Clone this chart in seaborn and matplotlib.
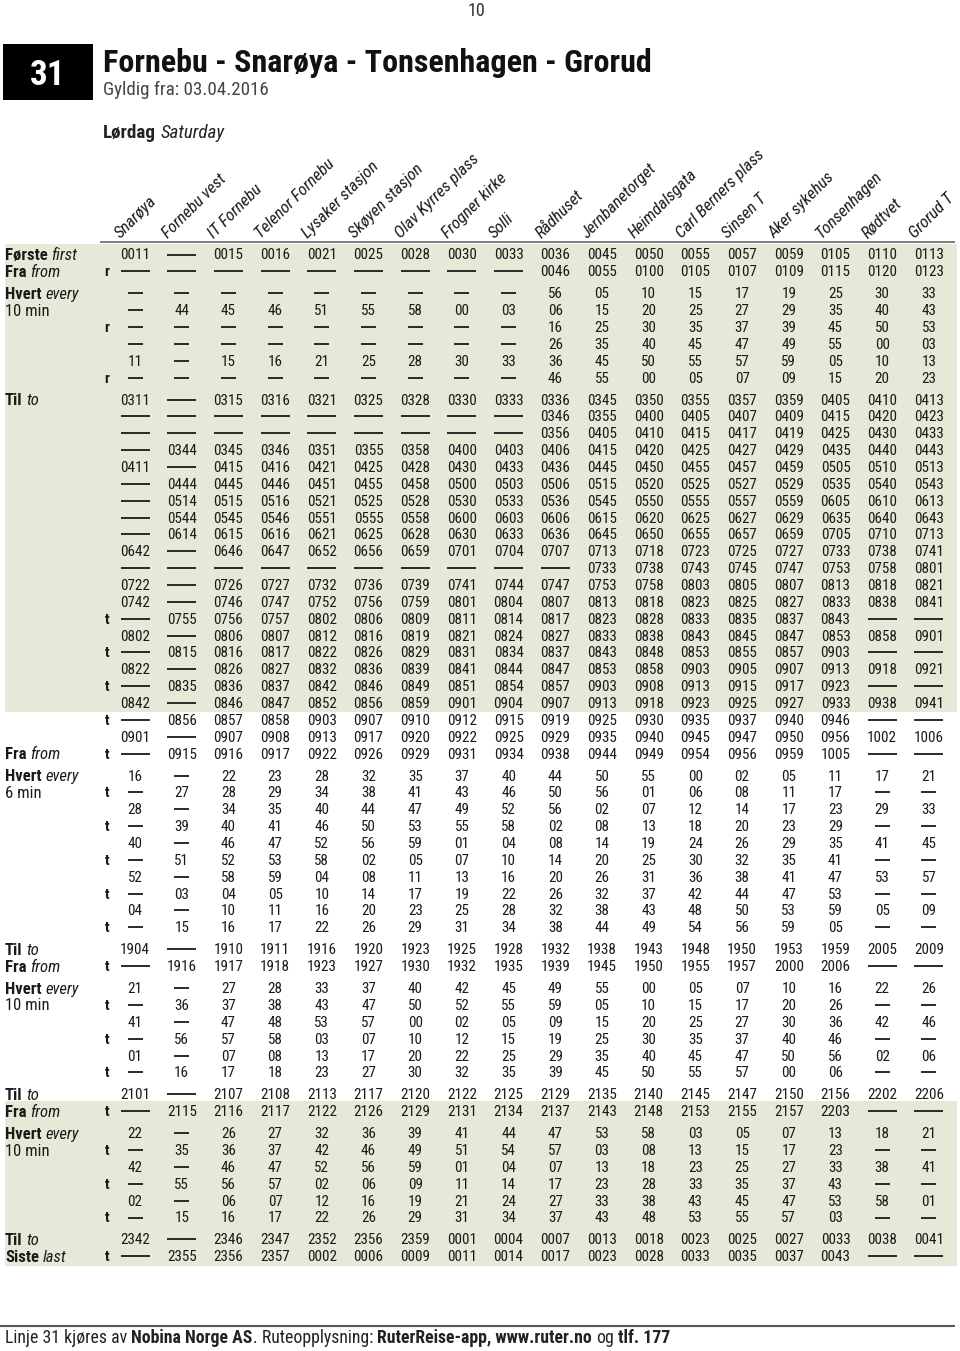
import matplotlib
matplotlib.use("Agg")
import matplotlib.pyplot as plt
from matplotlib import font_manager as fm
from matplotlib.patches import Rectangle
import seaborn as sns

# ---------------- data ----------------
stops = ["Snarøya", "Fornebu vest", "IT Fornebu", "Telenor Fornebu", "Lysaker stasjon",
         "Skøyen stasjon", "Olav Kyrres plass", "Frogner kirke", "Solli", "Rådhuset",
         "Jernbanetorget", "Heimdalsgata", "Carl Berners plass", "Sinsen T", "Aker sykehus",
         "Tonsenhagen", "Rødtvet", "Grorud T"]

# first token of each row: '.' none, 'r'/'t' footnote marker ; '-' = no stop
block_first = [
    ". 0011 - 0015 0016 0021 0025 0028 0030 0033 0036 0045 0050 0055 0057 0059 0105 0110 0113",
    "r - - - - - - - - - 0046 0055 0100 0105 0107 0109 0115 0120 0123",
]
block_every1 = [
    ". - - - - - - - - - 56 05 10 15 17 19 25 30 33",
    ". - 44 45 46 51 55 58 00 03 06 15 20 25 27 29 35 40 43",
    "r - - - - - - - - - 16 25 30 35 37 39 45 50 53",
    ". - - - - - - - - - 26 35 40 45 47 49 55 00 03",
    ". 11 - 15 16 21 25 28 30 33 36 45 50 55 57 59 05 10 13",
    "r - - - - - - - - - 46 55 00 05 07 09 15 20 23",
]
block_to1 = [
    ". 0311 - 0315 0316 0321 0325 0328 0330 0333 0336 0345 0350 0355 0357 0359 0405 0410 0413",
    ". - - - - - - - - - 0346 0355 0400 0405 0407 0409 0415 0420 0423",
    ". - - - - - - - - - 0356 0405 0410 0415 0417 0419 0425 0430 0433",
    ". - 0344 0345 0346 0351 0355 0358 0400 0403 0406 0415 0420 0425 0427 0429 0435 0440 0443",
    ". 0411 - 0415 0416 0421 0425 0428 0430 0433 0436 0445 0450 0455 0457 0459 0505 0510 0513",
    ". - 0444 0445 0446 0451 0455 0458 0500 0503 0506 0515 0520 0525 0527 0529 0535 0540 0543",
    ". - 0514 0515 0516 0521 0525 0528 0530 0533 0536 0545 0550 0555 0557 0559 0605 0610 0613",
    ". - 0544 0545 0546 0551 0555 0558 0600 0603 0606 0615 0620 0625 0627 0629 0635 0640 0643",
    ". - 0614 0615 0616 0621 0625 0628 0630 0633 0636 0645 0650 0655 0657 0659 0705 0710 0713",
    ". 0642 - 0646 0647 0652 0656 0659 0701 0704 0707 0713 0718 0723 0725 0727 0733 0738 0741",
    ". - - - - - - - - - - 0733 0738 0743 0745 0747 0753 0758 0801",
    ". 0722 - 0726 0727 0732 0736 0739 0741 0744 0747 0753 0758 0803 0805 0807 0813 0818 0821",
    ". 0742 - 0746 0747 0752 0756 0759 0801 0804 0807 0813 0818 0823 0825 0827 0833 0838 0841",
    "t - 0755 0756 0757 0802 0806 0809 0811 0814 0817 0823 0828 0833 0835 0837 0843 - -",
    ". 0802 - 0806 0807 0812 0816 0819 0821 0824 0827 0833 0838 0843 0845 0847 0853 0858 0901",
    "t - 0815 0816 0817 0822 0826 0829 0831 0834 0837 0843 0848 0853 0855 0857 0903 - -",
    ". 0822 - 0826 0827 0832 0836 0839 0841 0844 0847 0853 0858 0903 0905 0907 0913 0918 0921",
    "t - 0835 0836 0837 0842 0846 0849 0851 0854 0857 0903 0908 0913 0915 0917 0923 - -",
    ". 0842 - 0846 0847 0852 0856 0859 0901 0904 0907 0913 0918 0923 0925 0927 0933 0938 0941",
    "t - 0856 0857 0858 0903 0907 0910 0912 0915 0919 0925 0930 0935 0937 0940 0946 - -",
    ". 0901 - 0907 0908 0913 0917 0920 0922 0925 0929 0935 0940 0945 0947 0950 0956 1002 1006",
    "t - 0915 0916 0917 0922 0926 0929 0931 0934 0938 0944 0949 0954 0956 0959 1005 - -",
]
block_every2 = [
    ". 16 - 22 23 28 32 35 37 40 44 50 55 00 02 05 11 17 21",
    "t - 27 28 29 34 38 41 43 46 50 56 01 06 08 11 17 - -",
    ". 28 - 34 35 40 44 47 49 52 56 02 07 12 14 17 23 29 33",
    "t - 39 40 41 46 50 53 55 58 02 08 13 18 20 23 29 - -",
    ". 40 - 46 47 52 56 59 01 04 08 14 19 24 26 29 35 41 45",
    "t - 51 52 53 58 02 05 07 10 14 20 25 30 32 35 41 - -",
    ". 52 - 58 59 04 08 11 13 16 20 26 31 36 38 41 47 53 57",
    "t - 03 04 05 10 14 17 19 22 26 32 37 42 44 47 53 - -",
    ". 04 - 10 11 16 20 23 25 28 32 38 43 48 50 53 59 05 09",
    "t - 15 16 17 22 26 29 31 34 38 44 49 54 56 59 05 - -",
]
block_to2 = [
    ". 1904 - 1910 1911 1916 1920 1923 1925 1928 1932 1938 1943 1948 1950 1953 1959 2005 2009",
    "t - 1916 1917 1918 1923 1927 1930 1932 1935 1939 1945 1950 1955 1957 2000 2006 - -",
]
block_every3 = [
    ". 21 - 27 28 33 37 40 42 45 49 55 00 05 07 10 16 22 26",
    "t - 36 37 38 43 47 50 52 55 59 05 10 15 17 20 26 - -",
    ". 41 - 47 48 53 57 00 02 05 09 15 20 25 27 30 36 42 46",
    "t - 56 57 58 03 07 10 12 15 19 25 30 35 37 40 46 - -",
    ". 01 - 07 08 13 17 20 22 25 29 35 40 45 47 50 56 02 06",
    "t - 16 17 18 23 27 30 32 35 39 45 50 55 57 00 06 - -",
]
block_to3 = [
    ". 2101 - 2107 2108 2113 2117 2120 2122 2125 2129 2135 2140 2145 2147 2150 2156 2202 2206",
    "t - 2115 2116 2117 2122 2126 2129 2131 2134 2137 2143 2148 2153 2155 2157 2203 - -",
]
block_every4 = [
    ". 22 - 26 27 32 36 39 41 44 47 53 58 03 05 07 13 18 21",
    "t - 35 36 37 42 46 49 51 54 57 03 08 13 15 17 23 - -",
    ". 42 - 46 47 52 56 59 01 04 07 13 18 23 25 27 33 38 41",
    "t - 55 56 57 02 06 09 11 14 17 23 28 33 35 37 43 - -",
    ". 02 - 06 07 12 16 19 21 24 27 33 38 43 45 47 53 58 01",
    "t - 15 16 17 22 26 29 31 34 37 43 48 53 55 57 03 - -",
]
block_last = [
    ". 2342 - 2346 2347 2352 2356 2359 0001 0004 0007 0013 0018 0023 0025 0027 0033 0038 0041",
    "t - 2355 2356 2357 0002 0006 0009 0011 0014 0017 0023 0028 0033 0035 0037 0043 - -",
]

# (rows, kind, row labels)  kind: 'time' -> long dash, 'min' -> short dash
blocks = [
    (block_first, "time", {0: ("Første", "first", ""), 1: ("Fra", "from", "")}),
    (block_every1, "min", {0: ("Hvert", "every", ""), 1: ("", "", "10 min")}),
    (block_to1, "time", {0: ("Til", "to", ""), 21: ("Fra", "from", "")}),
    (block_every2, "min", {0: ("Hvert", "every", ""), 1: ("", "", "6 min")}),
    (block_to2, "time", {0: ("Til", "to", ""), 1: ("Fra", "from", "")}),
    (block_every3, "min", {0: ("Hvert", "every", ""), 1: ("", "", "10 min")}),
    (block_to3, "time", {0: ("Til", "to", ""), 1: ("Fra", "from", "")}),
    (block_every4, "min", {0: ("Hvert", "every", ""), 1: ("", "", "10 min")}),
    (block_last, "time", {0: ("Til", "to", ""), 1: ("Siste", "last", "")}),
]

title = "Fornebu - Snarøya - Tonsenhagen - Grorud"
subtitle = "Gyldig fra: 03.04.2016"
line_no = "31"
page_no = "10"
day_bold, day_it = "Lørdag", "Saturday"
footer_runs = [("Linje 31 kjøres av ", "normal"), ("Nobina Norge AS", "bold"),
               (". Ruteopplysning: ", "normal"), ("RuterReise-app, www.ruter.no", "bold"),
               (" og ", "normal"), ("tlf. 177", "bold")]

# ---------------- style ----------------
sns.set_theme(style="white")
names = {f.name for f in fm.fontManager.ttflist}


def find_narrow():
    for p in ["Liberation Sans Narrow", "Roboto Condensed", "Open Sans Condensed",
              "Noto Sans Condensed", "DejaVu Sans Condensed"]:
        if p in names:
            return p, "normal"
    for f in fm.fontManager.ttflist:
        if f.name == "DejaVu Sans" and str(f.stretch) in ("condensed", "semi-condensed"):
            return "DejaVu Sans", "condensed"
    for p in ["Roboto", "Lato", "Noto Sans"]:
        if p in names:
            return p, "normal"
    return "DejaVu Sans", "normal"


FAM, STR = find_narrow()
plt.rcParams["font.family"] = [FAM, "DejaVu Sans"]

GREEN = "#e5e9d7"
INK = "#1a1a1a"

fig = plt.figure(figsize=(9.6, 13.51), dpi=100)
ax = fig.add_axes([0, 0, 1, 1])
ax.set_xlim(0, 960)
ax.set_ylim(1351, 0)
ax.axis("off")
R = fig.canvas.get_renderer()


def fp(weight="normal", style="normal"):
    return dict(family=[FAM, "DejaVu Sans"], fontweight=weight, fontstyle=style, fontstretch=STR)


def tw(s, size, **kw):
    t = ax.text(0, 0, s, fontsize=size, **kw)
    w = t.get_window_extent(R).width
    t.remove()
    return w


def fit(s, target, **kw):
    return 10.0 * target / tw(s, 10.0, **kw)


def base(yc, size):
    # baseline from visual centre of cap-height glyphs
    return yc + 0.36 * size * 100 / 72


def runs(x, yc, parts, size, color=INK):
    sp = tw("x x", size, **fp()) - tw("xx", size, **fp())
    for s, kind in parts:
        lead = len(s) - len(s.lstrip(" "))
        trail = len(s) - len(s.rstrip(" "))
        core = s.strip(" ")
        x += lead * sp
        kw = fp(weight="bold") if kind == "bold" else fp(style="italic") if kind == "italic" else fp()
        if core:
            t = ax.text(x, base(yc, size), core, fontsize=size, color=color, ha="left", va="baseline", **kw)
            x += t.get_window_extent(R).width
        x += trail * sp
    return x


# ---------------- layout ----------------
X0, DX = 135.0, 46.7
col_x = [X0 + j * DX for j in range(len(stops))]
Y0, PITCH, GAP = 254.0, 16.86, 5.1

size_num = fit("0000", 29.5, **fp())
size_lab = fit("Første first", 74, **fp(weight="bold"))
size_stop = fit("Carl Berners plass", 118, **fp(style="italic"))

# row positions
rows = []
i = 0
for g, (blk, kind, labels) in enumerate(blocks):
    for r, line in enumerate(blk):
        rows.append((Y0 + i * PITCH + g * GAP, g, r, line, kind, labels.get(r)))
        i += 1


def row_y(g, r):
    for y, gg, rr, *_ in rows:
        if gg == g and rr == r:
            return y


# shaded bands
top1 = rows[0][0] - 10
bot1 = (row_y(2, 18) + row_y(2, 19)) / 2 + 1
top2 = (row_y(6, 0) + row_y(6, 1)) / 2 - 1
bot2 = rows[-1][0] + 10
for a, b in [(top1, bot1), (top2, bot2)]:
    ax.add_patch(Rectangle((5, a), 952, b - a, facecolor=GREEN, edgecolor="none", zorder=0))

# header rule and stop names
ax.plot([100, 955], [242, 242], color="#666666", lw=1.2, solid_capstyle="butt")
for x, name in zip(col_x, stops):
    ax.text(x - 14, 239, name, rotation=45, rotation_mode="anchor", ha="left", va="baseline",
            fontsize=size_stop, color=INK, **fp(style="italic"))

# table body
long_x0, long_x1, long_y = [], [], []
short_x0, short_x1, short_y = [], [], []
for y, g, r, line, kind, lab in rows:
    tok = line.split()
    mark, vals = tok[0], tok[1:]
    yb = base(y, size_num)
    if mark != ".":
        ax.text(107, yb, mark, ha="center", va="baseline", fontsize=size_num, color=INK, **fp(weight="bold"))
    for x, v in zip(col_x, vals):
        if v == "-":
            if kind == "time":
                long_x0.append(x - 14.5); long_x1.append(x + 14.5); long_y.append(y + 0.5)
            else:
                short_x0.append(x - 7.5); short_x1.append(x + 7.5); short_y.append(y + 0.5)
        else:
            ax.text(x, yb, v, ha="center", va="baseline", fontsize=size_num, color=INK, **fp())
    if lab:
        b, it, pl = lab
        if pl:
            runs(5, y, [(pl, "normal")], size_lab)
        else:
            runs(5, y, [(b, "bold"), (" " + it, "italic")], size_lab)

ax.hlines(long_y, long_x0, long_x1, color=INK, lw=1.3)
ax.hlines(short_y, short_x0, short_x1, color=INK, lw=1.3)

# title block
ax.add_patch(Rectangle((3, 44), 90, 56, facecolor="black", edgecolor="none"))
s31 = fit(line_no, 36, **fp(weight="bold"))
ax.text(48, base(72, s31), line_no, ha="center", va="baseline", color="white", fontsize=s31, **fp(weight="bold"))
st = fit(title, 547, **fp(weight="bold"))
ax.text(103, base(60, st), title, ha="left", va="baseline", fontsize=st, color="#111111", **fp(weight="bold"))
ss = fit(subtitle, 165, **fp())
ax.text(103, base(88, ss), subtitle, ha="left", va="baseline", fontsize=ss, color="#444444", **fp())
ax.text(476, base(10, 13), page_no, ha="center", va="baseline", fontsize=13, color="#333333", **fp())
sd = fit(day_bold + " " + day_it, 125, **fp(weight="bold"))
runs(103, 131, [(day_bold, "bold"), (" " + day_it, "italic")], sd, color="#222222")

# footer
ax.plot([0, 955], [1326, 1326], color="#555555", lw=1.5, solid_capstyle="butt")
full = "".join(s for s, _ in footer_runs)
sf = fit(full, 650, **fp())
runs(5, 1337, footer_runs, sf, color="#222222")

fig.savefig("out.png", dpi=100)
